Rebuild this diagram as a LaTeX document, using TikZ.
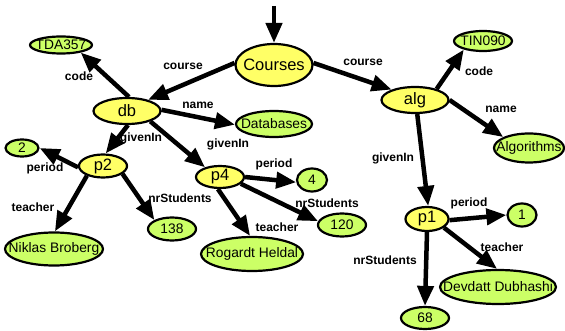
\documentclass[tikz,border=0pt]{standalone}
\usepackage{fontspec}
\setmainfont{Liberation Sans}
\usepackage{xcolor}
\usetikzlibrary{arrows.meta, shapes.geometric}

\definecolor{objfill}{RGB}{255,255,102}
\definecolor{valfill}{RGB}{204,255,102}

\tikzset{
	obj/.style={ellipse, draw, line width=2.2pt, fill=objfill, inner sep=0pt,
		font=\fontsize{16.5}{19}\selectfont,
		execute at begin node={\hbox to 0pt\bgroup\hss}, execute at end node={\hss\egroup}},
	val/.style={obj, fill=valfill, font=\fontsize{13.8}{16}\selectfont},
	link/.style={line width=4.5pt, -{Triangle[length=20pt, width=16pt]}},
	lbl/.style={font=\bfseries\fontsize{12}{14}\selectfont, inner sep=0pt}
}

\begin{document}
\begin{tikzpicture}[x=1pt, y=-1pt]
	\useasboundingbox (0,0) rectangle (565,331);
	\coordinate (entry) at (274,6);
	\node [obj, minimum width=77pt, minimum height=42pt] (courses) at (274,65) {Courses};
	\node [obj, minimum width=67pt, minimum height=26pt] (db) at (127,111) {db};
	\node [obj, minimum width=67pt, minimum height=26pt] (alg) at (415,100) {alg};
	\node [obj, minimum width=48pt, minimum height=23pt] (p2) at (103,166) {p2};
	\node [obj, minimum width=48pt, minimum height=22pt] (p4) at (220,177) {p4};
	\node [obj, minimum width=43pt, minimum height=24pt] (p1) at (427,219) {p1};
	\node [val, minimum width=62pt, minimum height=17pt] (tda) at (61,45) {TDA357};
	\node [val, minimum width=58pt, minimum height=20pt] (tin) at (483,41) {TIN090};
	\node [val, minimum width=76pt, minimum height=26pt] (databases) at (274,124) {Databases};
	\node [val, minimum width=70pt, minimum height=29pt] (algorithms) at (529,148) {Algorithms};
	\node [val, minimum width=33pt, minimum height=17pt] (n2) at (22,148) {2};
	\node [val, minimum width=30pt, minimum height=23pt] (n4) at (312,180) {4};
	\node [val, minimum width=29pt, minimum height=23pt] (n1) at (522,215) {1};
	\node [val, minimum width=48pt, minimum height=23pt] (n138) at (172,229) {138};
	\node [val, minimum width=48pt, minimum height=23pt] (n120) at (342,225) {120};
	\node [val, minimum width=48pt, minimum height=22pt] (n68) at (425,318) {68};
	\node [val, minimum width=98pt, minimum height=33pt] (niklas) at (54,249) {Niklas Broberg};
	\node [val, minimum width=102pt, minimum height=34pt] (rogardt) at (252,254) {Rogardt Heldal};
	\node [val, minimum width=116pt, minimum height=34pt] (devdatt) at (498,287) {Devdatt Dubhashi};
	% edge labels
	\path (183,66) node [lbl] (lcourse1) {course};
	\path (363,62) node [lbl] (lcourse2) {course};
	\path (79,76) node [lbl] (lcode1) {code};
	\path (479,71) node [lbl] (lcode2) {code};
	\path (198,105) node [lbl] (lname1) {name};
	\path (501,109) node [lbl] (lname2) {name};
	\path (141,138) node [lbl] (lgiven1) {givenIn};
	\path (228,144) node [lbl] (lgiven2) {givenIn};
	\path (393,158) node [lbl] (lgiven3) {givenIn};
	\path (45,168) node [lbl] (lperiod1) {period};
	\path (274,164) node [lbl] (lperiod2) {period};
	\path (469,203) node [lbl] (lperiod3) {period};
	\path (33,207) node [lbl] (lteacher1) {teacher};
	\path (277,227) node [lbl] (lteacher2) {teacher};
	\path (502,247) node [lbl] (lteacher3) {teacher};
	\path (180,198) node [lbl] (lnr1) {nrStudents};
	\path (327,203) node [lbl] (lnr2) {nrStudents};
	\path (385,260) node [lbl] (lnr3) {nrStudents};
	% edges
	\draw [link] (entry) -- (courses.north);
	\draw [link] (courses.177) -- (db.28);
	\draw [link] (courses.3) -- (alg.156);
	\draw [link] (db.82) -- (tda.-21);
	\draw [link] (db.2) -- (databases.181);
	\draw [link] (db.-86) -- (p2.78);
	\draw [link] (db.-24) -- (p4.147);
	\draw [link] (p2.183) -- (n2.0);
	\draw [link] (p2.211) -- (niklas.87);
	\draw [link] (p2.-22) -- (n138.153);
	\draw [link] (p4.0) -- (n4.188);
	\draw [link] (p4.-100) -- (rogardt.96);
	\draw [link] (p4.-18) -- (n120.171);
	\draw [link] (alg.27) -- (tin.204);
	\draw [link] (alg.0) -- (algorithms.157);
	\draw [link] (alg.-81) -- (p1.85);
	\draw [link] (p1.-3) -- (n1.180);
	\draw [link] (p1.-27) -- (devdatt.93);
	\draw [link] (p1.-90) -- (n68.90);
\end{tikzpicture}
\end{document}
